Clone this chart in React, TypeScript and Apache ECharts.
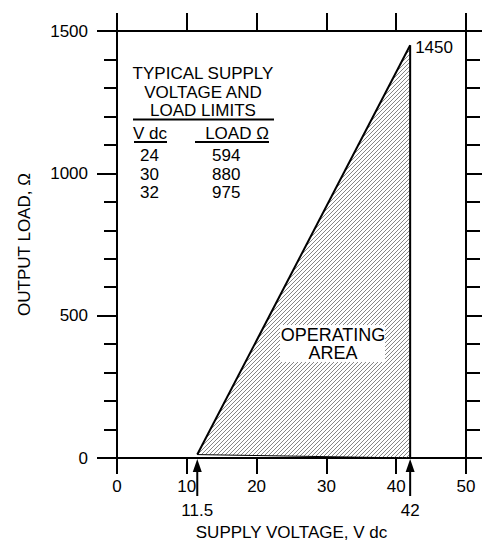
import React, { useEffect, useRef } from "react";
import * as echarts from "echarts";

// Operating area polygon (supply voltage V dc, output load Ω)
const areaVoltage = [11.5, 42, 42];
const areaLoad = [12, 1450, 0];

// Arrow markers on the voltage axis
const arrowVoltages = [11.5, 42];
const arrowLabels = ["11.5", "42"];

// Table of typical limits
const tableTitle = ["TYPICAL SUPPLY", "VOLTAGE AND", "LOAD LIMITS"];
const tableHeaders = ["V dc", "LOAD Ω"];
const tableVdc = ["24", "30", "32"];
const tableLoad = ["594", "880", "975"];

const areaText = ["OPERATING", "AREA"];

const FONT = "'Liberation Sans', Arial, Helvetica, sans-serif";

export default function App() {
  const ref = useRef<HTMLDivElement>(null);

  useEffect(() => {
    if (!ref.current) return;
    const chart = echarts.init(ref.current, null, { renderer: "svg" });

    const axisLine = { show: true, onZero: false, lineStyle: { color: "#000", width: 2 } };
    const tFont = `17px ${FONT}`;

    const graphic: any[] = [];
    const titleY = [73, 92, 110];
    tableTitle.forEach((t, i) => {
      graphic.push({
        type: "text",
        z: 100,
        x: 203,
        y: titleY[i],
        style: { text: t, font: tFont, lineHeight: 17, fill: "#000", align: "center", verticalAlign: "middle" },
      });
    });
    graphic.push({
      type: "line",
      z: 100,
      shape: { x1: 133, y1: 119.5, x2: 274, y2: 119.5 },
      style: { stroke: "#000", lineWidth: 2 },
    });
    graphic.push({
      type: "text",
      z: 100,
      x: 133,
      y: 133,
      style: { text: tableHeaders[0], font: tFont, lineHeight: 17, fill: "#000", align: "left", verticalAlign: "middle" },
    });
    graphic.push({
      type: "text",
      z: 100,
      x: 237,
      y: 133,
      style: { text: tableHeaders[1], font: tFont, lineHeight: 17, fill: "#000", align: "center", verticalAlign: "middle" },
    });
    graphic.push({
      type: "line",
      z: 100,
      shape: { x1: 134, y1: 142, x2: 167, y2: 142 },
      style: { stroke: "#000", lineWidth: 2 },
    });
    graphic.push({
      type: "line",
      z: 100,
      shape: { x1: 195, y1: 142, x2: 269, y2: 142 },
      style: { stroke: "#000", lineWidth: 2 },
    });
    const rowY = [155, 174, 192];
    tableVdc.forEach((v, i) => {
      graphic.push({
        type: "text",
        z: 100,
        x: 140,
        y: rowY[i],
        style: { text: v, font: tFont, lineHeight: 17, fill: "#000", align: "left", verticalAlign: "middle" },
      });
      graphic.push({
        type: "text",
        z: 100,
        x: 212,
        y: rowY[i],
        style: { text: tableLoad[i], font: tFont, lineHeight: 17, fill: "#000", align: "left", verticalAlign: "middle" },
      });
    });
    graphic.push({
      type: "rect",
      z: 100,
      shape: { x: 280, y: 325, width: 105, height: 37 },
      style: { fill: "#fff" },
    });
    const areaY = [334.5, 353];
    areaText.forEach((t, i) => {
      graphic.push({
        type: "text",
        z: 101,
        x: 333,
        y: areaY[i],
        style: { text: t, font: `18px ${FONT}`, lineHeight: 18, fill: "#000", align: "center", verticalAlign: "middle" },
      });
    });

    const option: any = {
      animation: false,
      backgroundColor: "#fff",
      textStyle: { fontFamily: FONT, color: "#000" },
      grid: { left: 117, right: 16, top: 31, bottom: 84 },
      xAxis: [
        {
          type: "value",
          position: "bottom",
          min: 0,
          max: 50,
          interval: 10,
          name: "SUPPLY VOLTAGE, V dc",
          nameLocation: "middle",
          nameGap: 66,
          nameTextStyle: { fontSize: 17, color: "#000", fontFamily: FONT },
          axisLine,
          axisTick: { show: true, inside: false, length: 16, lineStyle: { color: "#000", width: 2 } },
          axisLabel: { show: true, margin: 20, fontSize: 17, color: "#000", fontFamily: FONT },
          splitLine: { show: false },
        },
        {
          type: "value",
          position: "top",
          min: 0,
          max: 50,
          interval: 10,
          axisLine,
          axisTick: { show: true, inside: false, length: 18, lineStyle: { color: "#000", width: 2 } },
          axisLabel: { show: false },
          splitLine: { show: false },
        },
      ],
      yAxis: [
        {
          type: "value",
          position: "left",
          min: 0,
          max: 1500,
          interval: 500,
          name: "OUTPUT LOAD, Ω",
          nameLocation: "middle",
          nameGap: 84,
          nameTextStyle: { fontSize: 17, color: "#000", fontFamily: FONT },
          axisLine,
          axisTick: { show: true, inside: false, length: 20, lineStyle: { color: "#000", width: 2 } },
          minorTick: { show: true, splitNumber: 5, length: 13, lineStyle: { color: "#000", width: 2 } },
          axisLabel: {
            show: true,
            margin: 29,
            fontSize: 17,
            color: "#000",
            fontFamily: FONT,
            formatter: (v: number) => String(v),
          },
          splitLine: { show: false },
          minorSplitLine: { show: false },
        },
        {
          type: "value",
          position: "right",
          min: 0,
          max: 1500,
          interval: 500,
          axisLine,
          axisTick: { show: true, inside: false, length: 20, lineStyle: { color: "#000", width: 2 } },
          minorTick: { show: true, splitNumber: 5, length: 14, lineStyle: { color: "#000", width: 2 } },
          axisLabel: { show: false },
          splitLine: { show: false },
          minorSplitLine: { show: false },
        },
      ],
      series: [
        {
          type: "custom",
          xAxisIndex: 0,
          yAxisIndex: 0,
          clip: false,
          z: 3,
          data: areaVoltage.map((v, i) => [v, areaLoad[i]]),
          renderItem: (params: any, api: any) => {
            if (params.dataIndex !== 0) return null;
            const pts = areaVoltage.map((v, i) => api.coord([v, areaLoad[i]]));
            const children: any[] = [];
            const sums = pts.map((p: number[]) => p[0] + p[1]);
            const step = 4;
            const minS = Math.min(...sums);
            const maxS = Math.max(...sums);
            for (let c = Math.ceil(minS / step) * step; c <= maxS; c += step) {
              const hits: number[][] = [];
              for (let k = 0; k < pts.length; k++) {
                const a = pts[k];
                const b = pts[(k + 1) % pts.length];
                const fa = a[0] + a[1] - c;
                const fb = b[0] + b[1] - c;
                if ((fa <= 0 && fb > 0) || (fa > 0 && fb <= 0)) {
                  const t = fa / (fa - fb);
                  hits.push([a[0] + (b[0] - a[0]) * t, a[1] + (b[1] - a[1]) * t]);
                }
              }
              if (hits.length >= 2) {
                children.push({
                  type: "line",
                  shape: { x1: hits[0][0], y1: hits[0][1], x2: hits[1][0], y2: hits[1][1] },
                  style: { stroke: "#777", lineWidth: 0.9 },
                  silent: true,
                });
              }
            }
            children.push({
              type: "line",
              shape: { x1: pts[0][0], y1: pts[0][1], x2: pts[1][0], y2: pts[1][1] },
              style: { stroke: "#000", lineWidth: 2 },
            });
            children.push({
              type: "line",
              shape: { x1: pts[1][0], y1: pts[1][1], x2: pts[2][0], y2: pts[2][1] },
              style: { stroke: "#000", lineWidth: 2 },
            });
            children.push({
              type: "line",
              shape: { x1: pts[0][0], y1: pts[0][1], x2: pts[2][0], y2: pts[2][1] },
              style: { stroke: "#000", lineWidth: 1 },
            });
            children.push({
              type: "text",
              style: {
                text: String(areaLoad[1]),
                x: pts[1][0] + 5,
                y: pts[1][1] + 2,
                font: `17px ${FONT}`,
                fill: "#000",
                align: "left",
                verticalAlign: "middle",
              },
            });
            return { type: "group", children };
          },
        },
        {
          type: "custom",
          xAxisIndex: 0,
          yAxisIndex: 0,
          clip: false,
          z: 4,
          data: arrowVoltages.map((v) => [v, 0]),
          renderItem: (params: any, api: any) => {
            const p = api.coord([api.value(0), api.value(1)]);
            const x = p[0];
            const y = p[1];
            return {
              type: "group",
              children: [
                {
                  type: "polygon",
                  shape: { points: [[x, y + 1], [x - 4.5, y + 14], [x + 4.5, y + 14]] },
                  style: { fill: "#000" },
                },
                {
                  type: "line",
                  shape: { x1: x, y1: y + 12, x2: x, y2: y + 38 },
                  style: { stroke: "#000", lineWidth: 2 },
                },
                {
                  type: "text",
                  style: {
                    text: arrowLabels[params.dataIndex],
                    x: x,
                    y: y + 52,
                    font: `17px ${FONT}`,
                    fill: "#000",
                    align: "center",
                    verticalAlign: "middle",
                  },
                },
              ],
            };
          },
        },
      ],
      graphic,
    };

    chart.setOption(option);
    return () => chart.dispose();
  }, []);

  return (
    <div
      ref={ref}
      style={{ position: "fixed", left: 0, top: 0, width: 482, height: 546, background: "#fff" }}
    />
  );
}
